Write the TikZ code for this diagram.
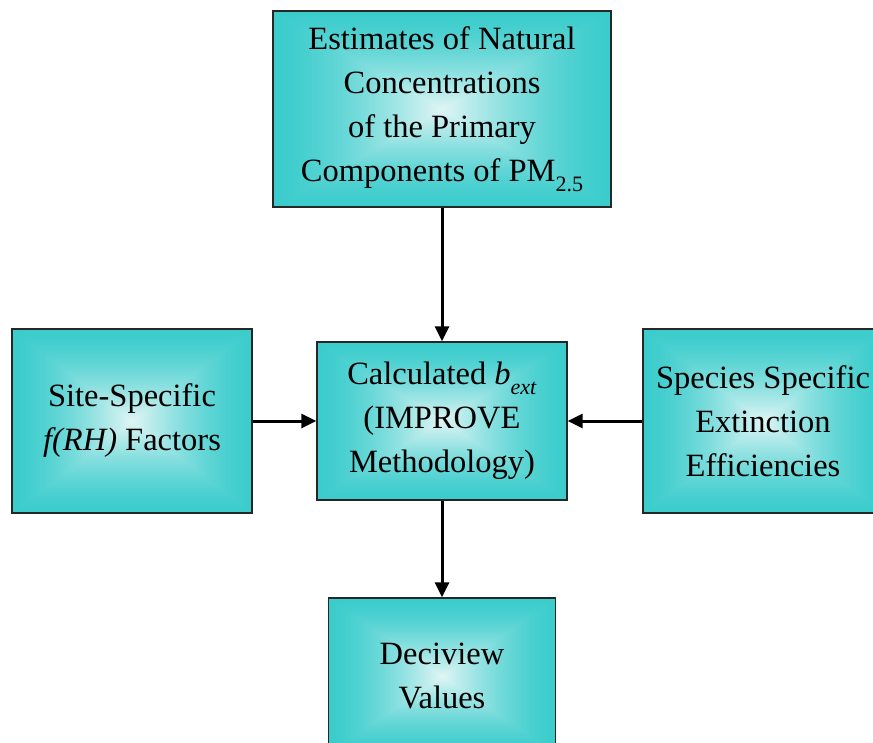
\documentclass[tikz,border=0pt]{standalone}
\usepackage{fontspec}
\setmainfont{Liberation Serif}
\usetikzlibrary{arrows.meta}
\pgfdeclarefunctionalshading{bevel}{\pgfpoint{-50bp}{-50bp}}{\pgfpoint{50bp}{50bp}}{}{
abs exch abs 2 copy lt {exch} if pop 25 div dup 1 gt {pop 1} if 1 exch sub dup sqrt mul
dup 0.65 mul 0.23 add exch dup 0.16 mul 0.80 add exch 0.16 mul 0.80 add
}
\tikzset{
  box/.style={draw=black!85, line width=1.3pt, shade, shading=bevel, align=center,
    inner sep=0pt, font=\fontsize{32.5}{44}\selectfont},
  conn/.style={line width=3pt, -{Triangle[length=15pt,width=14pt]}}
}
\newcommand{\smallsub}[1]{\raisebox{-0.3em}{\fontsize{22}{22}\selectfont #1}}
\begin{document}
\begin{tikzpicture}[x=1pt,y=-1pt]
\useasboundingbox (0,0) rectangle (873,742);
\begin{scope}
\clip (0,0) rectangle (873,742);
\node[box, minimum width=338pt, minimum height=196pt] (top) at (442,109)
  {Estimates of Natural\\Concentrations\\of the Primary\\Components of PM\smallsub{2.5}};
\node[box, minimum width=240pt, minimum height=184pt] (left) at (132,421)
  {Site-Specific\\\textit{f(RH)} Factors};
\node[box, minimum width=250pt, minimum height=158pt] (mid) at (442,421)
  {Calculated \textit{b}\smallsub{\textit{ext}}\\(IMPROVE\\Methodology)};
\node[box, minimum width=240pt, minimum height=184pt] (right) at (763,421)
  {Species Specific\\Extinction\\Efficiencies};
\node[box, minimum width=227pt, minimum height=156pt] (bot) at (442,676)
  {Deciview\\Values};
\end{scope}
\draw[conn] (top.south) -- (mid.north);
\draw[conn] (left.east) -- (mid.west);
\draw[conn] (right.west) -- (mid.east);
\draw[conn] (mid.south) -- (bot.north);
\end{tikzpicture}
\end{document}
